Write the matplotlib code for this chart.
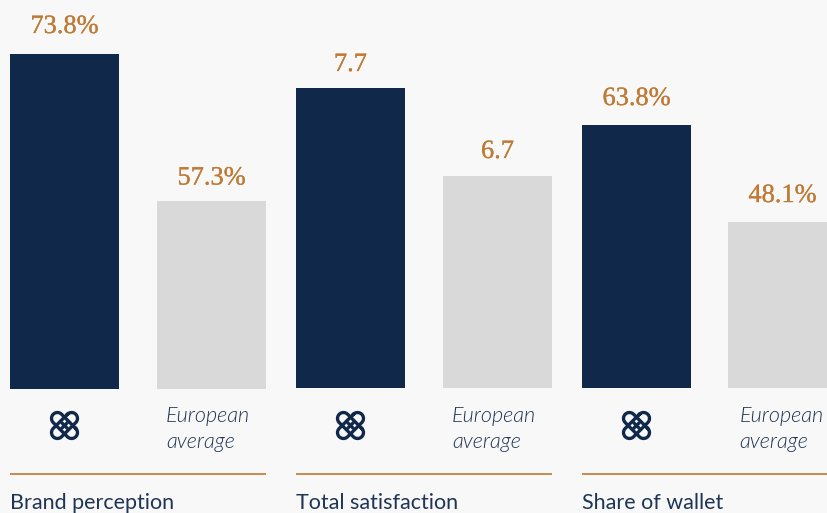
#!/usr/bin/env python3
"""Three small bar panels: company score against the European average."""

import matplotlib
matplotlib.use('Agg')
import matplotlib.pyplot as plt
import matplotlib.patheffects as pe
from matplotlib import font_manager as fm
import numpy as np

# Data
metrics = ['Brand perception', 'Total satisfaction', 'Share of wallet']
company_values = [73.8, 7.7, 63.8]
european_values = [57.3, 6.7, 48.1]
value_labels = [['73.8%', '57.3%'], ['7.7', '6.7'], ['63.8%', '48.1%']]
benchmark_label = 'European\naverage'

# Colours
BG = '#f8f8f8'
NAVY = '#10294b'
GREY = '#d9d9d9'
ORANGE = '#bf7a35'
TEXT = '#1f3553'

W, H = 827, 513
fig = plt.figure(figsize=(W / 100, H / 100), dpi=100, facecolor=BG)

# pixel layer for everything that is not a bar
overlay = fig.add_axes([0, 0, 1, 1], zorder=5)
overlay.set_xlim(0, W)
overlay.set_ylim(H, 0)
overlay.axis('off')

# the named weights jump past Lato Light, so look for the file itself
light_italic = [f for f in fm.findSystemFonts() if 'Lato-LightItalic' in f]
if light_italic:
    note_font = fm.FontProperties(fname=light_italic[0], size=15.6)
else:
    note_font = fm.FontProperties(family='Lato', style='italic', size=15.2)


def stadium(angle, half_len=10.0, r=5.9):
    t1 = np.linspace(-np.pi / 2, np.pi / 2, 40)
    t2 = t1 + np.pi
    x = np.r_[half_len + r * np.cos(t1), -half_len + r * np.cos(t2), half_len]
    y = np.r_[r * np.sin(t1), r * np.sin(t2), -r]
    c, s = np.cos(angle), np.sin(angle)
    return c * x - s * y, s * x + c * y


def draw_logo(cx, cy):
    # two interlocked loops with a cross through the middle
    for a in [np.pi / 4, -np.pi / 4]:
        x, y = stadium(a)
        overlay.plot(cx + x, cy + y, color=NAVY, lw=2.4)
    arm = 4.6 * np.array([-1, 1])
    for a in [np.pi / 4, -np.pi / 4]:
        overlay.plot(cx + arm * np.cos(a), cy + arm * np.sin(a), color=NAVY, lw=2.4,
                     solid_capstyle='butt')


panel_left = [10, 296, 582]
panel_base = [389, 388, 388]
px_per_unit = [8.91, 88.0, 6.18]
base_height = [335, 300, 263]      # height of the company bar in pixels
bar_w = 109
bar_step = [147, 147, 146]
note_offset = [156, 156, 157.5]
label_gap = [[21, 16.5], [17, 18], [20, 20]]

for i, metric in enumerate(metrics):
    left = panel_left[i]
    base = panel_base[i]
    step = bar_step[i]
    ax_w = step + bar_w
    ax = fig.add_axes([left / W, (H - base) / H, ax_w / W, base / H], zorder=1)
    ax.set_facecolor('none')
    ax.axis('off')

    # truncated value axis, each panel has its own scale
    y0 = company_values[i] - base_height[i] / px_per_unit[i]
    ax.set_ylim(y0, y0 + base / px_per_unit[i])
    ax.set_xlim(-(bar_w / 2) / step, 1 + (bar_w / 2) / step)

    vals = [company_values[i], european_values[i]]
    bars = ax.bar([0, 1], vals, width=bar_w / step, bottom=0,
                  color=[NAVY, GREY], linewidth=0)

    for j, v in enumerate(vals):
        t = ax.annotate(value_labels[i][j], xy=(j, v),
                        xytext=(0, label_gap[i][j] * 0.72), textcoords='offset points',
                        ha='center', va='baseline', fontsize=19,
                        family='Liberation Serif', color=ORANGE, annotation_clip=False)
        t.set_path_effects([pe.withStroke(linewidth=0.2, foreground=ORANGE)])

    draw_logo(left + bar_w / 2, 425.5)
    for line, y in zip(benchmark_label.split('\n'), [415.5, 441.5]):
        overlay.text(left + note_offset[i], y, line, fontproperties=note_font,
                     color=TEXT, ha='left', va='center')

    overlay.plot([left, left + ax_w], [474, 474], color=ORANGE, lw=1.2,
                 solid_capstyle='butt')
    overlay.text(left, 509, metric, fontsize=15.5, family='Lato', color=TEXT,
                 ha='left', va='baseline')

fig.savefig('out.png', dpi=100, facecolor=BG)
